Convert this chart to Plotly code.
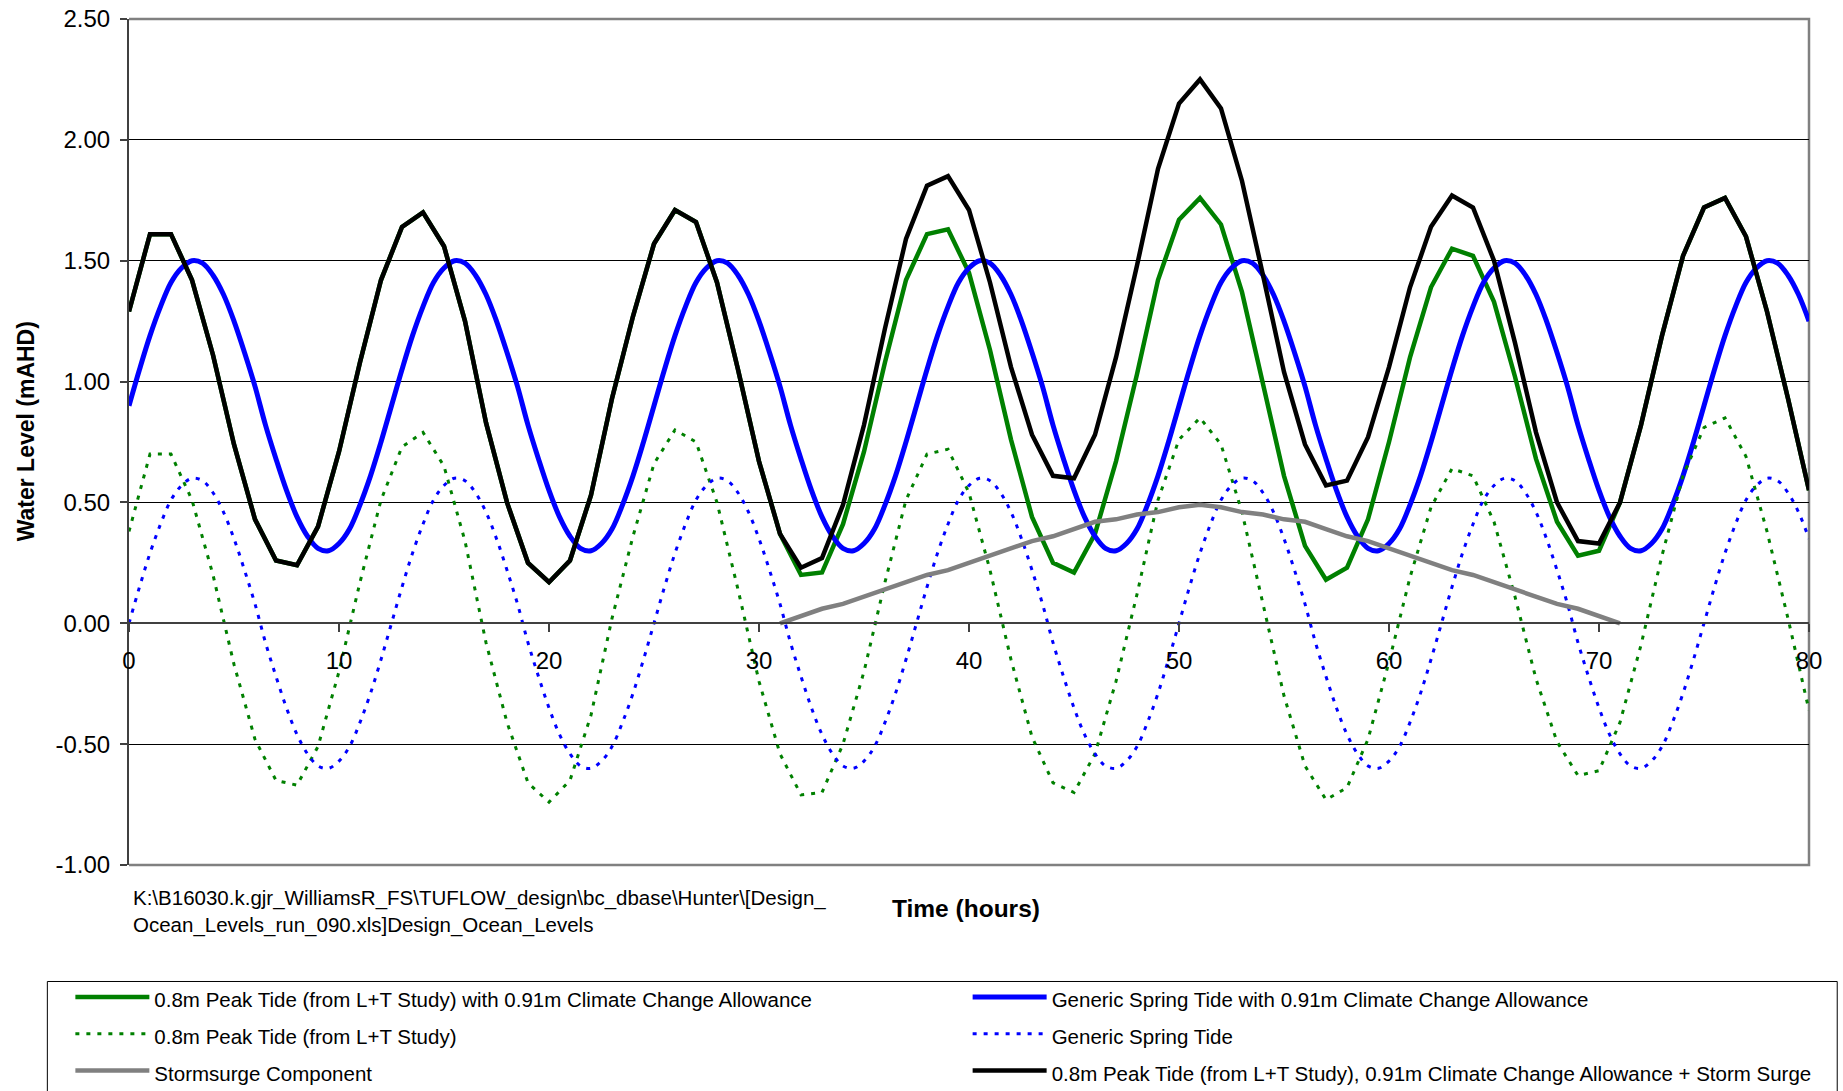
import plotly.graph_objects as go

# ---------------- data ----------------
hours = list(range(0, 81))
half_hours = [k / 2 for k in range(0, 161)]
surge_hours = list(range(31, 72))

tide_cc = [
    1.29, 1.61, 1.61, 1.42, 1.11, 0.74, 0.43, 0.26, 0.24, 0.40,
    0.71, 1.08, 1.42, 1.64, 1.70, 1.56, 1.25, 0.83, 0.50, 0.25,
    0.17, 0.26, 0.53, 0.93, 1.27, 1.57, 1.71, 1.66, 1.41, 1.05,
    0.67, 0.37, 0.20, 0.21, 0.41, 0.71, 1.08, 1.42, 1.61, 1.63,
    1.45, 1.13, 0.76, 0.44, 0.25, 0.21, 0.37, 0.67, 1.03, 1.42,
    1.67, 1.76, 1.65, 1.37, 0.99, 0.61, 0.32, 0.18, 0.23, 0.43,
    0.75, 1.10, 1.39, 1.55, 1.52, 1.33, 1.02, 0.68, 0.42, 0.28,
    0.30, 0.50, 0.82, 1.19, 1.52, 1.72, 1.76, 1.60, 1.29, 0.93,
    0.55,
]

# generic spring tide series, read every half hour
spring_cc = [
    0.90, 1.05, 1.19, 1.31, 1.41, 1.47, 1.50, 1.49, 1.44, 1.36, 1.25, 1.12, 0.98,
    0.82, 0.68, 0.55, 0.44, 0.36, 0.31, 0.30, 0.33, 0.39, 0.49, 0.61, 0.75,
    0.90, 1.05, 1.19, 1.31, 1.41, 1.47, 1.50, 1.49, 1.44, 1.36, 1.25, 1.12, 0.98,
    0.82, 0.68, 0.55, 0.44, 0.36, 0.31, 0.30, 0.33, 0.39, 0.49, 0.61, 0.75,
    0.90, 1.05, 1.19, 1.31, 1.41, 1.47, 1.50, 1.49, 1.44, 1.36, 1.25, 1.12, 0.98,
    0.82, 0.68, 0.55, 0.44, 0.36, 0.31, 0.30, 0.33, 0.39, 0.49, 0.61, 0.75,
    0.90, 1.05, 1.19, 1.31, 1.41, 1.47, 1.50, 1.49, 1.44, 1.36, 1.25, 1.12, 0.98,
    0.82, 0.68, 0.55, 0.44, 0.36, 0.31, 0.30, 0.33, 0.39, 0.49, 0.61, 0.75,
    0.90, 1.05, 1.19, 1.31, 1.41, 1.47, 1.50, 1.49, 1.44, 1.36, 1.25, 1.12, 0.98,
    0.82, 0.68, 0.55, 0.44, 0.36, 0.31, 0.30, 0.33, 0.39, 0.49, 0.61, 0.75,
    0.90, 1.05, 1.19, 1.31, 1.41, 1.47, 1.50, 1.49, 1.44, 1.36, 1.25, 1.12, 0.98,
    0.82, 0.68, 0.55, 0.44, 0.36, 0.31, 0.30, 0.33, 0.39, 0.49, 0.61, 0.75,
    0.90, 1.05, 1.19, 1.31, 1.41, 1.47, 1.50, 1.49, 1.44, 1.36, 1.25,
]

spring = [
    0.00, 0.15, 0.29, 0.41, 0.51, 0.57, 0.60, 0.59, 0.54, 0.46, 0.35, 0.22, 0.08,
    -0.08, -0.22, -0.35, -0.46, -0.54, -0.59, -0.60, -0.57, -0.51, -0.41, -0.29, -0.15,
    0.00, 0.15, 0.29, 0.41, 0.51, 0.57, 0.60, 0.59, 0.54, 0.46, 0.35, 0.22, 0.08,
    -0.08, -0.22, -0.35, -0.46, -0.54, -0.59, -0.60, -0.57, -0.51, -0.41, -0.29, -0.15,
    0.00, 0.15, 0.29, 0.41, 0.51, 0.57, 0.60, 0.59, 0.54, 0.46, 0.35, 0.22, 0.08,
    -0.08, -0.22, -0.35, -0.46, -0.54, -0.59, -0.60, -0.57, -0.51, -0.41, -0.29, -0.15,
    0.00, 0.15, 0.29, 0.41, 0.51, 0.57, 0.60, 0.59, 0.54, 0.46, 0.35, 0.22, 0.08,
    -0.08, -0.22, -0.35, -0.46, -0.54, -0.59, -0.60, -0.57, -0.51, -0.41, -0.29, -0.15,
    0.00, 0.15, 0.29, 0.41, 0.51, 0.57, 0.60, 0.59, 0.54, 0.46, 0.35, 0.22, 0.08,
    -0.08, -0.22, -0.35, -0.46, -0.54, -0.59, -0.60, -0.57, -0.51, -0.41, -0.29, -0.15,
    0.00, 0.15, 0.29, 0.41, 0.51, 0.57, 0.60, 0.59, 0.54, 0.46, 0.35, 0.22, 0.08,
    -0.08, -0.22, -0.35, -0.46, -0.54, -0.59, -0.60, -0.57, -0.51, -0.41, -0.29, -0.15,
    0.00, 0.15, 0.29, 0.41, 0.51, 0.57, 0.60, 0.59, 0.54, 0.46, 0.35,
]

tide = [
    0.38, 0.70, 0.70, 0.51, 0.20, -0.17, -0.48, -0.65, -0.67, -0.51,
    -0.20, 0.17, 0.51, 0.73, 0.79, 0.65, 0.34, -0.08, -0.41, -0.66,
    -0.74, -0.65, -0.38, 0.02, 0.36, 0.66, 0.80, 0.75, 0.50, 0.14,
    -0.24, -0.54, -0.71, -0.70, -0.50, -0.20, 0.17, 0.51, 0.70, 0.72,
    0.54, 0.22, -0.15, -0.47, -0.66, -0.70, -0.54, -0.24, 0.12, 0.51,
    0.76, 0.85, 0.74, 0.46, 0.08, -0.30, -0.59, -0.73, -0.68, -0.48,
    -0.16, 0.19, 0.48, 0.64, 0.61, 0.42, 0.11, -0.23, -0.49, -0.63,
    -0.61, -0.41, -0.09, 0.28, 0.61, 0.81, 0.85, 0.69, 0.38, 0.02,
    -0.36,
]

surge = [
    0.00, 0.03, 0.06, 0.08, 0.11, 0.14, 0.17, 0.20, 0.22, 0.25,
    0.28, 0.31, 0.34, 0.36, 0.39, 0.42, 0.43, 0.45, 0.46, 0.48,
    0.49, 0.48, 0.46, 0.45, 0.43, 0.42, 0.39, 0.36, 0.34, 0.31,
    0.28, 0.25, 0.22, 0.20, 0.17, 0.14, 0.11, 0.08, 0.06, 0.03,
    0.00,
]

tide_cc_surge = [
    1.29, 1.61, 1.61, 1.42, 1.11, 0.74, 0.43, 0.26, 0.24, 0.40,
    0.71, 1.08, 1.42, 1.64, 1.70, 1.56, 1.25, 0.83, 0.50, 0.25,
    0.17, 0.26, 0.53, 0.93, 1.27, 1.57, 1.71, 1.66, 1.41, 1.05,
    0.67, 0.37, 0.23, 0.27, 0.49, 0.82, 1.22, 1.59, 1.81, 1.85,
    1.71, 1.41, 1.06, 0.78, 0.61, 0.60, 0.78, 1.10, 1.48, 1.88,
    2.15, 2.25, 2.13, 1.83, 1.44, 1.04, 0.74, 0.57, 0.59, 0.77,
    1.06, 1.39, 1.64, 1.77, 1.72, 1.50, 1.16, 0.79, 0.50, 0.34,
    0.33, 0.50, 0.82, 1.19, 1.52, 1.72, 1.76, 1.60, 1.29, 0.93,
    0.55,
]

y_tickvals = [-1.0, -0.5, 0.0, 0.5, 1.0, 1.5, 2.0, 2.5]
y_ticktext = ["-1.00", "-0.50", "0.00", "0.50", "1.00", "1.50", "2.00", "2.50"]
x_tickvals = [0, 10, 20, 30, 40, 50, 60, 70, 80]

series_names = [
    "0.8m Peak Tide (from L+T Study) with 0.91m Climate Change Allowance",
    "Generic Spring Tide with 0.91m Climate Change Allowance",
    "0.8m Peak Tide (from L+T Study)",
    "Generic Spring Tide",
    "Stormsurge Component",
    "0.8m Peak Tide (from L+T Study), 0.91m Climate Change Allowance + Storm Surge",
]

source_text = (r"K:\B16030.k.gjr_WilliamsR_FS\TUFLOW_design\bc_dbase\Hunter\[Design_"
               "<br>Ocean_Levels_run_090.xls]Design_Ocean_Levels")

FONT = "Arial, 'Liberation Sans', sans-serif"
GREEN = "#008000"
BLUE = "#0000FF"
GREY = "#808080"
DOT = "4px,7px"


def legend_label(s):
    # legend rows are spaced like a larger font, the text itself stays small
    return '<span style="font-size:20.5px">' + s + "</span>"


# ---------------- figure ----------------
fig = go.Figure()
fig.add_trace(go.Scatter(x=hours, y=tide_cc, mode="lines", name=legend_label(series_names[0]),
                         line=dict(color=GREEN, width=4.5)))
fig.add_trace(go.Scatter(x=half_hours, y=spring_cc, mode="lines", name=legend_label(series_names[1]),
                         line=dict(color=BLUE, width=5, shape="spline")))
fig.add_trace(go.Scatter(x=hours, y=tide, mode="lines", name=legend_label(series_names[2]),
                         line=dict(color=GREEN, width=3, dash=DOT)))
fig.add_trace(go.Scatter(x=half_hours, y=spring, mode="lines", name=legend_label(series_names[3]),
                         line=dict(color=BLUE, width=3, dash=DOT, shape="spline")))
fig.add_trace(go.Scatter(x=surge_hours, y=surge, mode="lines", name=legend_label(series_names[4]),
                         line=dict(color=GREY, width=4.5)))
fig.add_trace(go.Scatter(x=hours, y=tide_cc_surge, mode="lines", name=legend_label(series_names[5]),
                         line=dict(color="#000000", width=4.5)))

fig.update_layout(
    width=1843, height=1091,
    margin=dict(l=129, r=34, t=19, b=226, autoexpand=False),
    paper_bgcolor="white", plot_bgcolor="white",
    font=dict(family=FONT, color="black", size=20),
    showlegend=True,
    legend=dict(
        orientation="h", x=-0.0349, y=-0.1283, xanchor="left", yanchor="top",
        borderwidth=0, bgcolor="rgba(0,0,0,0)",
        font=dict(family=FONT, size=26, color="black"),
        entrywidthmode="fraction", entrywidth=0.496,
        itemwidth=74,
        traceorder="normal",
    ),
    xaxis=dict(
        range=[0, 80], tickvals=x_tickvals,
        anchor="free", position=1 / 3.5,
        showline=True, linecolor="#404040", linewidth=1.5,
        ticks="outside", ticklen=8, tickcolor="#404040", tickwidth=1.5,
        showgrid=False, zeroline=False,
        tickfont=dict(family=FONT, size=24, color="black"),
        ticklabelstandoff=8,
    ),
    yaxis=dict(
        range=[-1, 2.5], domain=[0, 1],
        tickvals=y_tickvals, ticktext=y_ticktext,
        showline=True, linecolor="#404040", linewidth=2,
        ticks="outside", ticklen=7, tickcolor="#404040", tickwidth=1.5,
        showgrid=True, gridcolor="black", gridwidth=1,
        zeroline=False,
        tickfont=dict(family=FONT, size=24, color="black"),
        ticklabelstandoff=5, ticklabeloverflow="allow",
    ),
    shapes=[
        dict(type="path", xref="paper", yref="paper",
             path="M0,1 L1,1 L1,0 L0,0", line=dict(color=GREY, width=2.5),
             layer="between"),
        # legend frame (open at the bottom, like the cropped reference)
        dict(type="rect", xref="paper", yref="paper",
             x0=-0.0486, x1=1.0168, y0=-0.40, y1=-0.1377,
             line=dict(color="black", width=1), fillcolor="rgba(0,0,0,0)",
             layer="above"),
    ],
    annotations=[
        dict(text=source_text, xref="paper", yref="paper", x=0.0014, y=-0.0225,
             xanchor="left", yanchor="top", align="left", showarrow=False,
             font=dict(family=FONT, size=20.5, color="black")),
        dict(text="<b>Time (hours)</b>", xref="paper", yref="paper", x=0.4984, y=-0.0515,
             xanchor="center", yanchor="middle", showarrow=False,
             font=dict(family=FONT, size=24.5, color="black")),
        dict(text="<b>Water Level (mAHD)</b>", xref="paper", yref="paper", x=-0.0611, y=0.513,
             xanchor="center", yanchor="middle", textangle=-90, showarrow=False,
             font=dict(family=FONT, size=23, color="black")),
    ],
)

# remove the page's default 8px body margin so the figure fills the window exactly
fig.write_html("out.html",
               config={"displayModeBar": False},
               post_script="document.body.style.margin='0px';document.body.style.overflow='hidden';")
